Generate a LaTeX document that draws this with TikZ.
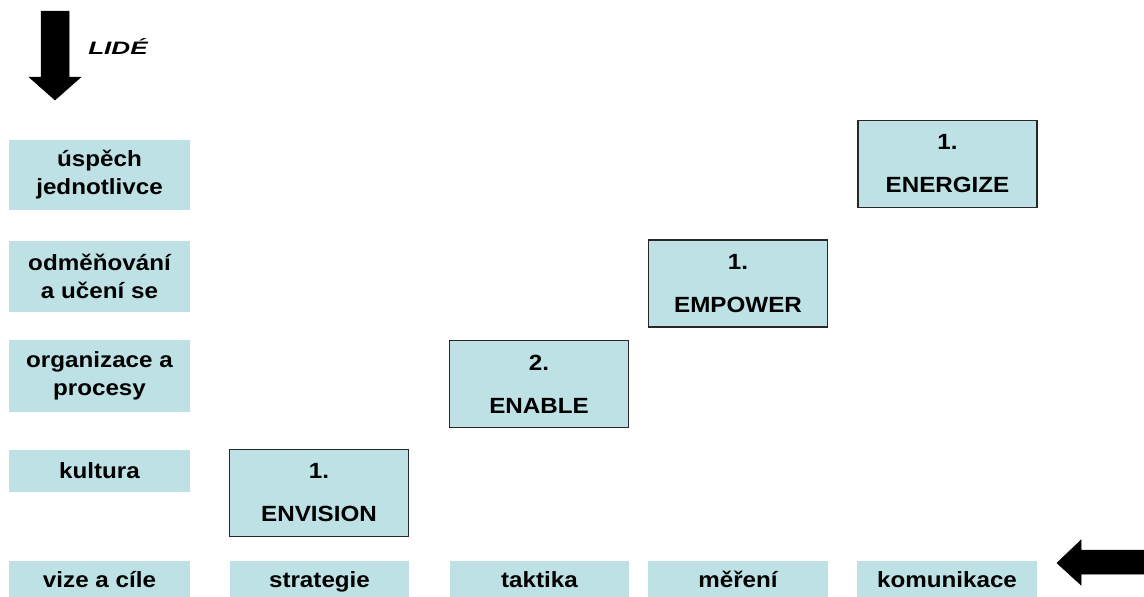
\documentclass[tikz,border=0pt]{standalone}
\usepackage{fontspec}
\setmainfont{Liberation Sans}
\newfontfamily\boxfont[FakeStretch=1.1]{Liberation Sans}
\newfontfamily\lidefont[FakeStretch=1.45]{Liberation Sans}
\definecolor{boxfill}{RGB}{189,225,229}
\definecolor{boxline}{RGB}{40,40,40}
\tikzset{
  rowbox/.style={fill=boxfill, draw=none, minimum width=181pt, minimum height=#1, inner sep=0pt,
    align=center, font=\boxfont\bfseries\fontsize{22}{28}\selectfont},
  botbox/.style={fill=boxfill, draw=none, minimum height=42pt, inner sep=0pt,
    text height=16pt, text depth=5pt, font=\boxfont\bfseries\fontsize{22}{28}\selectfont},
  stagebox/.style={fill=boxfill, draw=boxline, line width=1.7pt, minimum width=179pt, minimum height=87pt,
    inner sep=0pt, align=center, font=\boxfont\bfseries\fontsize{22}{43}\selectfont},
  bigarrow/.style={fill=black, draw=black, line width=0.5pt, line join=miter}
}
\begin{document}
\begin{tikzpicture}[x=1pt,y=-1pt]
\useasboundingbox (0,0) rectangle (1144,597);
\fill[white] (0,0) rectangle (1144,597);

% arrows
\fill[bigarrow] (41,11) -- (69,11) -- (69,77) -- (81,77) -- (55,100) -- (29,77) -- (41,77) -- cycle;
\node[font=\lidefont\bfseries\itshape\fontsize{18}{20}\selectfont, inner sep=0pt] (lide) at (118,47) {LIDÉ};
\fill[bigarrow] (1144,550) -- (1081,550) -- (1081,540) -- (1057,563) -- (1081,585) -- (1081,574) -- (1144,574) -- cycle;

% left column
\node[rowbox=70pt] (uspech) at (99.5,174.5) {úspěch\\jednotlivce};
\node[rowbox=71pt] (odmena) at (99.5,276) {odměňování\\a učení se};
\node[rowbox=72pt] (organizace) at (99.5,376) {organizace a\\procesy};
\node[rowbox=42pt] (kultura) at (99.5,471) {kultura};

% bottom row (cut by the lower edge)
\node[botbox, minimum width=181pt] (vize) at (99.5,582) {vize a cíle};
\node[botbox, minimum width=179pt] (strategie) at (319.5,582) {strategie};
\node[botbox, minimum width=179pt] (taktika) at (539.5,582) {taktika};
\node[botbox, minimum width=180pt] (mereni) at (738,582) {měření};
\node[botbox, minimum width=180pt] (komunikace) at (947,582) {komunikace};

% stage boxes
\node[stagebox] (envision) at (319,493) {1.\\ENVISION};
\node[stagebox] (enable) at (539,384) {2.\\ENABLE};
\node[stagebox] (empower) at (738,283.5) {1.\\EMPOWER};
\node[stagebox] (energize) at (947.5,164) {1.\\ENERGIZE};
\end{tikzpicture}
\end{document}
